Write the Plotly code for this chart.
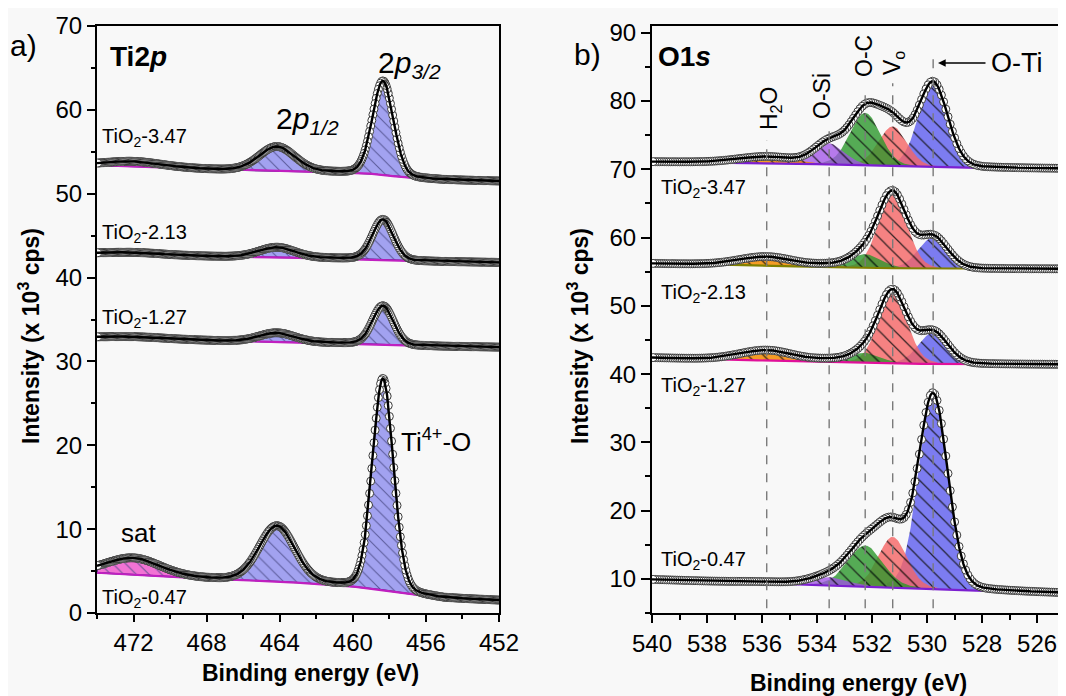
import numpy as np
import plotly.graph_objects as go

# ---------------- Data ----------------
# Panel a: Ti 2p — fitted components (sat, 2p1/2, 2p3/2)
ti_samples = ["TiO<sub>2</sub>-0.47", "TiO<sub>2</sub>-1.27", "TiO<sub>2</sub>-2.13", "TiO<sub>2</sub>-3.47"]
ti_components = ["sat", "2p1/2", "2p3/2"]
ti_centers = [472.0, 464.15, 458.35]
ti_fwhm = [3.5, 2.3, 1.35]
ti_heights_047 = [2.0, 6.6, 25.2]
ti_heights_127 = [0.2, 1.1, 4.6]
ti_heights_213 = [0.25, 1.2, 4.8]
ti_heights_347 = [0.6, 2.9, 11.2]
# Shirley-like background knots
ti_bg_energy = [474, 470, 467, 464, 461, 459, 457, 455, 452]
ti_bg_047 = [4.8, 4.3, 4.0, 3.75, 3.35, 2.95, 2.3, 1.75, 1.5]
ti_bg_127 = [32.85, 32.65, 32.45, 32.3, 32.2, 32.1, 31.9, 31.8, 31.7]
ti_bg_213 = [42.85, 42.65, 42.5, 42.4, 42.3, 42.2, 42.0, 41.9, 41.8]
ti_bg_347 = [53.4, 53.1, 52.85, 52.7, 52.55, 52.4, 51.9, 51.65, 51.5]

# Panel b: O 1s — fitted components (H2O, O-Si, O-C, Vo, O-Ti)
o_samples = ["TiO<sub>2</sub>-0.47", "TiO<sub>2</sub>-1.27", "TiO<sub>2</sub>-2.13", "TiO<sub>2</sub>-3.47"]
o_components = ["H<sub>2</sub>O", "O-Si", "O-C", "V<sub>o</sub>", "O-Ti"]
o_centers = [535.83, 533.56, 532.25, 531.25, 529.78]
o_fwhm_047 = [2.3, 1.6, 1.5, 1.22, 1.25]
o_fwhm_127 = [2.3, 1.3, 1.3, 1.22, 1.25]
o_fwhm_213 = [2.3, 1.3, 1.3, 1.22, 1.25]
o_fwhm_347 = [2.3, 1.3, 1.3, 1.22, 1.25]
o_heights_047 = [0.15, 1.2, 6.0, 7.4, 28.4]
o_heights_127 = [1.5, 0.25, 1.5, 10.4, 4.6]
o_heights_213 = [1.3, 0.25, 2.0, 10.8, 4.6]
o_heights_347 = [0.9, 3.1, 7.7, 5.8, 12.3]
o_bg_energy = [540, 537, 534, 532, 530, 528, 525]
o_bg_047 = [9.9, 9.5, 9.1, 8.85, 8.6, 8.25, 7.9]
o_bg_127 = [42.4, 42.1, 41.8, 41.6, 41.5, 41.45, 41.4]
o_bg_213 = [56.2, 56.0, 55.7, 55.55, 55.45, 55.4, 55.4]
o_bg_347 = [71.1, 71.0, 70.75, 70.55, 70.35, 70.2, 70.1]

ti_x_ticks = [472, 468, 464, 460, 456, 452]
o_x_ticks = [540, 538, 536, 534, 532, 530, 528, 526]

# ---------------- Styling ----------------
FONT = "Liberation Sans, Arial, sans-serif"
W, H = 1066, 696
OFF = 8                      # page offset of the figure (body margin)
PLOT_TOP, PLOT_BOT = 26, 613  # in page pixels
T_M = PLOT_TOP - OFF
B_M = H - (PLOT_BOT - OFF)
BG = "#f8f8f8"


def px_x(p):
    return (p - OFF) / W


def px_y(p):
    return (PLOT_BOT - p) / (PLOT_BOT - PLOT_TOP)


def pv(e, c, w, h, eta=0.12):
    u = 2.0 * (e - c) / w
    return h * ((1 - eta) * np.exp(-np.log(2) * u ** 2) + eta / (1 + u ** 2))


fig = go.Figure()


def add_spectrum(xa, ya, e_fine, e_pts, bg_e, bg_v, centers, fwhms, heights,
                 fills, patt, outline, bg_color, mk_size):
    order_e = np.argsort(bg_e)
    be = np.asarray(bg_e, float)[order_e]
    bv = np.asarray(bg_v, float)[order_e]
    bg_f = np.interp(e_fine, be, bv)
    comps = [pv(e_fine, c, w, h) for c, w, h in zip(centers, fwhms, heights)]
    for i in list(range(len(centers)))[::-1]:
        m = comps[i] > 0.02 * max(heights[i], 0.05)
        if m.sum() < 3:
            continue
        ee = e_fine[m]
        top = bg_f[m] + comps[i][m]
        base = bg_f[m]
        fig.add_trace(go.Scatter(
            x=np.concatenate([ee, ee[::-1]]), y=np.concatenate([top, base[::-1]]),
            xaxis=xa, yaxis=ya, mode="lines", fill="toself",
            fillcolor=fills[i],
            fillpattern=dict(shape="\\", size=patt["size"], solidity=patt["solidity"],
                             fgcolor=patt["fg"], bgcolor=fills[i], fgopacity=patt["fgop"]),
            line=dict(color=outline if outline else "rgba(0,0,0,0)", width=1.4 if outline else 0),
            hoverinfo="skip", showlegend=False))
    fig.add_trace(go.Scatter(x=e_fine, y=bg_f, xaxis=xa, yaxis=ya, mode="lines",
                             line=dict(color=bg_color, width=2.2), hoverinfo="skip", showlegend=False))
    bg_p = np.interp(e_pts, be, bv)
    env_p = bg_p + sum(pv(e_pts, c, w, h) for c, w, h in zip(centers, fwhms, heights))
    fig.add_trace(go.Scatter(x=e_pts, y=env_p, xaxis=xa, yaxis=ya, mode="markers",
                             marker=dict(symbol="circle", size=mk_size, color="white",
                                         line=dict(color="#3a3a3a", width=1)),
                             hoverinfo="skip", showlegend=False))
    env_f = bg_f + sum(comps)
    fig.add_trace(go.Scatter(x=e_fine, y=env_f, xaxis=xa, yaxis=ya, mode="lines",
                             line=dict(color="black", width=2.4), hoverinfo="skip", showlegend=False))


# Panel a
e_a_fine = np.arange(452.0, 474.0001, 0.02)
e_a_pts = np.arange(452.0, 474.0001, 0.06)
ti_fill = ["rgba(240,70,200,0.75)", "rgba(110,110,235,0.62)", "rgba(110,110,235,0.62)"]
ti_patt = dict(size=9, solidity=0.12, fg="#4a4a86", fgop=0.8)
for heights, bg in [(ti_heights_047, ti_bg_047), (ti_heights_127, ti_bg_127),
                    (ti_heights_213, ti_bg_213), (ti_heights_347, ti_bg_347)]:
    add_spectrum("x", "y", e_a_fine, e_a_pts, ti_bg_energy, bg, ti_centers, ti_fwhm, heights,
                 ti_fill, ti_patt, "#1c1c70", "#c020c0", 8)

# Panel b
e_b_fine = np.arange(524.6, 540.0001, 0.02)
e_b_pts = np.arange(524.6, 540.0001, 0.08)
o_fill = ["rgba(245,140,0,0.85)", "rgba(160,80,230,0.75)", "rgba(40,150,40,0.78)",
          "rgba(245,100,100,0.8)", "rgba(90,90,240,0.78)"]
o_patt = dict(size=11, solidity=0.11, fg="#111111", fgop=0.85)
o_bg_colors = ["#7b1fd0", "#e0109a", "#808000", "#7b1fd0"]
for (heights, fw, bg), bgc in zip([(o_heights_047, o_fwhm_047, o_bg_047),
                                   (o_heights_127, o_fwhm_127, o_bg_127),
                                   (o_heights_213, o_fwhm_213, o_bg_213),
                                   (o_heights_347, o_fwhm_347, o_bg_347)], o_bg_colors):
    add_spectrum("x2", "y2", e_b_fine, e_b_pts, o_bg_energy, bg, o_centers, fw, heights,
                 o_fill, o_patt, None, bgc, 8)

# dashed reference lines at component positions
line_tops = [74.3, 76.2, 81.9, 82.6, 86.4]
shapes = []
for c, top in zip(o_centers, line_tops):
    shapes.append(dict(type="line", xref="x2", yref="y2", x0=c, x1=c, y0=5.7, y1=top,
                       line=dict(color="#7a7a7a", width=1.4, dash="dash"), layer="above"))

axis_common = dict(showline=True, linecolor="black", linewidth=2, ticks="outside",
                   tickcolor="black", tickwidth=1.8, showgrid=False, zeroline=False,
                   automargin=False,
                   tickfont=dict(family=FONT, size=24, color="black"))

fig.update_layout(
    width=W, height=H, paper_bgcolor=BG, plot_bgcolor=BG,
    margin=dict(l=0, r=0, t=T_M, b=B_M, autoexpand=False),
    font=dict(family=FONT, color="black"),
    shapes=shapes,
    xaxis=dict(domain=[px_x(97), px_x(499)], range=[474, 452], tickvals=ti_x_ticks,
               ticklen=7, mirror=True, minor=dict(dtick=2, ticklen=4, tickcolor="black", tickwidth=1.5, ticks="outside"),
               anchor="y", **axis_common),
    yaxis=dict(domain=[0, 1], range=[0, 70], dtick=10, ticklen=8, mirror=True,
               minor=dict(dtick=5, ticklen=4, tickcolor="black", tickwidth=1.5, ticks="outside"),
               anchor="x", **axis_common),
    xaxis2=dict(domain=[px_x(652), px_x(1066 + 8)], range=[540, 524.66], tickvals=o_x_ticks,
                ticklen=8, mirror=True, minor=dict(dtick=1, ticklen=5, tickcolor="black", tickwidth=1.5, ticks="outside"),
                anchor="y2", **axis_common),
    yaxis2=dict(domain=[0, 1], range=[5, 91], dtick=10, ticklen=9, mirror=True,
                minor=dict(dtick=5, ticklen=5, tickcolor="black", tickwidth=1.5, ticks="outside"),
                anchor="x2", **axis_common),
)

ann = []


def txt(text, xp, yp, size, xanchor="left", yanchor="middle", angle=0):
    ann.append(dict(text=text, x=px_x(xp), y=px_y(yp), xref="paper", yref="paper",
                    xanchor=xanchor, yanchor=yanchor, showarrow=False, textangle=angle,
                    font=dict(family=FONT, size=size, color="black")))


# panel a labels
txt("a)", 23, 45, 30, xanchor="center")
txt("<b>Ti2<i>p</i></b>", 108, 56, 28)
txt("2<i>p</i><sub><i>1/2</i></sub>", 274, 120, 30)
txt("2<i>p</i><sub><i>3/2</i></sub>", 376, 64, 30)
txt("sat", 119, 533, 26)
txt("Ti<sup>4+</sup>-O", 399, 440, 26)
for s, yp in zip(ti_samples[::-1], [137, 233, 318, 598]):
    txt(s, 100, yp, 20)
# panel b labels
txt("b)", 587, 54, 30, xanchor="center")
txt("<b>O1<i>s</i></b>", 656, 56, 28)
for name, xp, yp in zip(o_components[:4], [770, 822, 864, 893], [109, 96, 56, 63]):
    txt(name, xp, yp, 23, xanchor="center", angle=-90)
txt("O-Ti", 989, 63, 27)
ann.append(dict(text="", x=px_x(938), y=px_y(63), xref="paper", yref="paper",
                ax=49, ay=0, showarrow=True, arrowhead=2, arrowsize=1.1, arrowwidth=1.4,
                arrowcolor="black"))
for s, yp in zip(o_samples[::-1], [188, 293, 386, 560]):
    txt(s, 659, yp, 20)
# axis titles
txt("<b>Binding energy (eV)</b>", 310, 673, 23, xanchor="center")
txt("<b>Binding energy (eV)</b>", 858, 683, 23, xanchor="center")
txt("<b>Intensity (x 10<sup>3</sup> cps)</b>", 29, 336, 23, xanchor="center", angle=-90)
txt("<b>Intensity (x 10<sup>3</sup> cps)</b>", 578, 336, 23, xanchor="center", angle=-90)

fig.update_layout(annotations=ann)
fig.write_html("out.html")
